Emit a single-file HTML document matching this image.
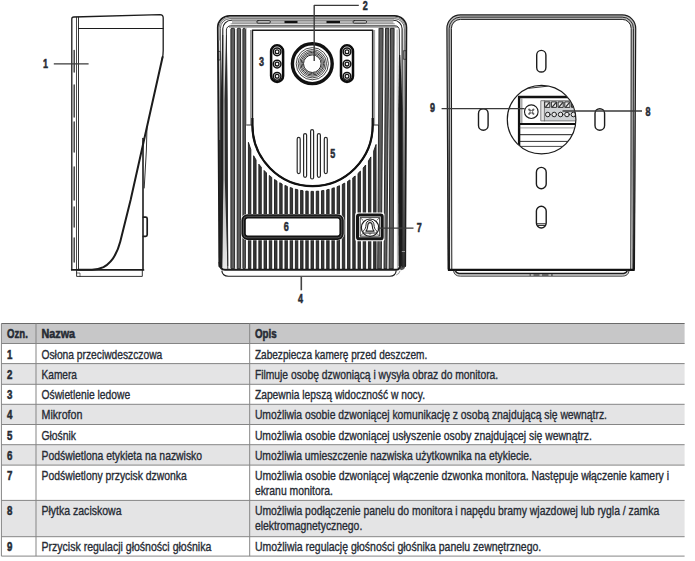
<!DOCTYPE html>
<html lang="pl"><head><meta charset="utf-8"><title>Panel zewnętrzny</title>
<style>html,body{margin:0;padding:0;background:#fff;}body{width:695px;height:561px;overflow:hidden;position:relative;}svg{position:absolute;left:0;top:0;display:block;}text{font-family:"Liberation Sans",sans-serif;fill:#262b34;stroke:#262b34;stroke-width:0.36px;}.b{font-weight:bold;stroke-width:0.55px;}</style></head><body>
<svg width="695" height="561" viewBox="0 0 695 561">
<g id="table">
<rect x="1.4" y="323.5" width="683.2" height="20.0" fill="#c7c7c8"/>
<rect x="1.4" y="363.6" width="683.2" height="20.7" fill="#e4e4e5"/>
<rect x="1.4" y="404.3" width="683.2" height="20.2" fill="#e4e4e5"/>
<rect x="1.4" y="444.7" width="683.2" height="20.4" fill="#e4e4e5"/>
<rect x="1.4" y="500.4" width="683.2" height="36.3" fill="#e4e4e5"/>
<line x1="1.4" y1="323.5" x2="684.6" y2="323.5" stroke="#6a6a6a" stroke-width="1"/>
<line x1="1.4" y1="343.5" x2="684.6" y2="343.5" stroke="#858585" stroke-width="1"/>
<line x1="1.4" y1="363.6" x2="684.6" y2="363.6" stroke="#858585" stroke-width="1"/>
<line x1="1.4" y1="384.3" x2="684.6" y2="384.3" stroke="#858585" stroke-width="1"/>
<line x1="1.4" y1="404.3" x2="684.6" y2="404.3" stroke="#858585" stroke-width="1"/>
<line x1="1.4" y1="424.5" x2="684.6" y2="424.5" stroke="#858585" stroke-width="1"/>
<line x1="1.4" y1="444.7" x2="684.6" y2="444.7" stroke="#858585" stroke-width="1"/>
<line x1="1.4" y1="465.1" x2="684.6" y2="465.1" stroke="#858585" stroke-width="1"/>
<line x1="1.4" y1="500.4" x2="684.6" y2="500.4" stroke="#858585" stroke-width="1"/>
<line x1="1.4" y1="536.7" x2="684.6" y2="536.7" stroke="#858585" stroke-width="1"/>
<line x1="1.4" y1="556.1" x2="684.6" y2="556.1" stroke="#858585" stroke-width="1"/>
<line x1="1.4" y1="323.5" x2="1.4" y2="556.1" stroke="#858585" stroke-width="1"/>
<line x1="36.0" y1="323.5" x2="36.0" y2="556.1" stroke="#858585" stroke-width="1"/>
<line x1="249.7" y1="323.5" x2="249.7" y2="556.1" stroke="#858585" stroke-width="1"/>
</g>
<g id="tabletext">
<text x="7.0" y="338.0" font-size="13.2" class="b" textLength="20.8" lengthAdjust="spacingAndGlyphs">Ozn.</text>
<text x="41.5" y="338.0" font-size="13.2" class="b" textLength="33.5" lengthAdjust="spacingAndGlyphs">Nazwa</text>
<text x="254.9" y="338.0" font-size="13.2" class="b" textLength="21.7" lengthAdjust="spacingAndGlyphs">Opis</text>
<text x="7.1" y="358.8" font-size="13.2" class="b" textLength="5.4" lengthAdjust="spacingAndGlyphs">1</text>
<text x="41.5" y="358.8" font-size="13.2" textLength="120.8" lengthAdjust="spacingAndGlyphs">Osłona przeciwdeszczowa</text>
<text x="254.9" y="358.8" font-size="13.2" textLength="172.4" lengthAdjust="spacingAndGlyphs">Zabezpiecza kamerę przed deszczem.</text>
<text x="7.1" y="379.0" font-size="13.2" class="b" textLength="5.4" lengthAdjust="spacingAndGlyphs">2</text>
<text x="41.5" y="379.0" font-size="13.2" textLength="35.5" lengthAdjust="spacingAndGlyphs">Kamera</text>
<text x="254.9" y="379.0" font-size="13.2" textLength="243.3" lengthAdjust="spacingAndGlyphs">Filmuje osobę dzwoniącą i wysyła obraz do monitora.</text>
<text x="7.1" y="399.2" font-size="13.2" class="b" textLength="5.4" lengthAdjust="spacingAndGlyphs">3</text>
<text x="41.5" y="399.2" font-size="13.2" textLength="88.7" lengthAdjust="spacingAndGlyphs">Oświetlenie ledowe</text>
<text x="254.9" y="399.2" font-size="13.2" textLength="170.1" lengthAdjust="spacingAndGlyphs">Zapewnia lepszą widoczność w nocy.</text>
<text x="7.1" y="419.4" font-size="13.2" class="b" textLength="5.4" lengthAdjust="spacingAndGlyphs">4</text>
<text x="41.5" y="419.4" font-size="13.2" textLength="40.9" lengthAdjust="spacingAndGlyphs">Mikrofon</text>
<text x="254.9" y="419.4" font-size="13.2" textLength="352.1" lengthAdjust="spacingAndGlyphs">Umożliwia osobie dzwoniącej komunikację z osobą znajdującą się wewnątrz.</text>
<text x="7.1" y="439.6" font-size="13.2" class="b" textLength="5.4" lengthAdjust="spacingAndGlyphs">5</text>
<text x="41.5" y="439.6" font-size="13.2" textLength="34.5" lengthAdjust="spacingAndGlyphs">Głośnik</text>
<text x="254.9" y="439.6" font-size="13.2" textLength="336.9" lengthAdjust="spacingAndGlyphs">Umożliwia osobie dzwoniącej usłyszenie osoby znajdującej się wewnątrz.</text>
<text x="7.1" y="459.8" font-size="13.2" class="b" textLength="5.4" lengthAdjust="spacingAndGlyphs">6</text>
<text x="41.5" y="459.8" font-size="13.2" textLength="160.6" lengthAdjust="spacingAndGlyphs">Podświetlona etykieta na nazwisko</text>
<text x="254.9" y="459.8" font-size="13.2" textLength="277.1" lengthAdjust="spacingAndGlyphs">Umożliwia umieszczenie nazwiska użytkownika na etykiecie.</text>
<text x="7.1" y="479.6" font-size="13.2" class="b" textLength="5.4" lengthAdjust="spacingAndGlyphs">7</text>
<text x="41.5" y="479.6" font-size="13.2" textLength="145.3" lengthAdjust="spacingAndGlyphs">Podświetlony przycisk dzwonka</text>
<text x="254.9" y="479.6" font-size="13.2" textLength="414.1" lengthAdjust="spacingAndGlyphs">Umożliwia osobie dzwoniącej włączenie dzwonka monitora. Następuje włączenie kamery i</text>
<text x="254.9" y="494.7" font-size="13.2" textLength="78.0" lengthAdjust="spacingAndGlyphs">ekranu monitora.</text>
<text x="7.1" y="515.3" font-size="13.2" class="b" textLength="5.4" lengthAdjust="spacingAndGlyphs">8</text>
<text x="41.5" y="515.3" font-size="13.2" textLength="80.0" lengthAdjust="spacingAndGlyphs">Płytka zaciskowa</text>
<text x="254.9" y="515.3" font-size="13.2" textLength="404.3" lengthAdjust="spacingAndGlyphs">Umożliwia podłączenie panelu do monitora i napędu bramy wjazdowej lub rygla / zamka</text>
<text x="254.9" y="529.8" font-size="13.2" textLength="107.4" lengthAdjust="spacingAndGlyphs">elektromagnetycznego.</text>
<text x="7.1" y="551.2" font-size="13.2" class="b" textLength="5.4" lengthAdjust="spacingAndGlyphs">9</text>
<text x="41.5" y="551.2" font-size="13.2" textLength="169.8" lengthAdjust="spacingAndGlyphs">Przycisk regulacji głośności głośnika</text>
<text x="254.9" y="551.2" font-size="13.2" textLength="286.3" lengthAdjust="spacingAndGlyphs">Umożliwia regulację głośności głośnika panelu zewnętrznego.</text>
</g>
<g id="side" fill="none" stroke="#1c1c1c" stroke-linecap="round" stroke-linejoin="round">
<path d="M71.8,269.6 V19 Q71.8,17.1 73.8,17 L160,14.6 Q163.2,14.6 163.2,17.8 V50.5 Q163.2,55 162.2,59" stroke-width="1.3"/>
<path d="M162.6,57 L148.5,120 L130.6,200 L120.3,241.5 C117.6,252 112,262.5 103.5,267.2 C99.5,269.2 96,269.8 92,269.8 H78" stroke-width="2"/>
<line x1="76.5" y1="17.2" x2="76.5" y2="269.5" stroke-width="0.8"/>
<line x1="78.5" y1="17.2" x2="78.5" y2="269.5" stroke-width="0.9"/>
<line x1="78.5" y1="28.5" x2="163.2" y2="28.5" stroke-width="1.1"/>
<line x1="74.2" y1="50.5" x2="74.2" y2="72.0" stroke-width="1.5" stroke="#444"/>
<line x1="74.2" y1="85.0" x2="74.2" y2="117.0" stroke-width="1.5" stroke="#444"/>
<line x1="74.2" y1="122.0" x2="74.2" y2="152.0" stroke-width="1.5" stroke="#444"/>
<line x1="74.2" y1="167.0" x2="74.2" y2="200.0" stroke-width="1.5" stroke="#444"/>
<line x1="74.2" y1="207.0" x2="74.2" y2="227.0" stroke-width="1.5" stroke="#444"/>
<line x1="74.2" y1="238.0" x2="74.2" y2="262.0" stroke-width="1.5" stroke="#444"/>
<line x1="71.8" y1="269.9" x2="143.4" y2="269.9" stroke-width="1.9"/>
<path d="M76.6,270 V276.4 H142.3 V270" stroke-width="0.9"/>
<path d="M76.6,273 H80 V276.4" stroke-width="0.6"/>
<path d="M143,269.6 V138.5" stroke-width="1.6"/>
<path d="M147,126.5 L146.4,150 L144.2,188" stroke-width="0.9"/>
<path d="M143.4,217.2 H145.6 Q147.2,217.2 147.2,218.8 V234.8 Q147.2,236.4 145.6,236.4 H143.4" stroke-width="1.7"/>
<line x1="53.8" y1="63.9" x2="88.6" y2="63.9" stroke-width="1.4" stroke="#3a3a3a" stroke-linecap="butt"/>
</g>
<g id="front" fill="none" stroke="#1c1c1c" stroke-linecap="round" stroke-linejoin="round">
<defs><linearGradient id="wg" x1="0" y1="0" x2="0" y2="1"><stop offset="0" stop-color="#4a4a4a" stop-opacity="0"/><stop offset="0.35" stop-color="#4a4a4a" stop-opacity="0.25"/><stop offset="1" stop-color="#585858" stop-opacity="1"/></linearGradient></defs>
<path d="M399.3,30 L406.4,30 L405.2,266 Q405,270 401,270.2 L398.8,268 Z" fill="url(#wg)" stroke="none"/>
<path d="M217.8,30 L222.8,30 L222,268 L219.4,268 Z" fill="url(#wg)" stroke="none"/>
<path d="M218.6,140 L220.4,140 L222,267 L218.8,267 Z" fill="#222" stroke="none"/>
<defs><linearGradient id="lg" x1="0" y1="0" x2="0" y2="1"><stop offset="0" stop-color="#666" stop-opacity="0"/><stop offset="0.3" stop-color="#666" stop-opacity="0.4"/><stop offset="0.7" stop-color="#666" stop-opacity="0.4"/><stop offset="1" stop-color="#666" stop-opacity="0.15"/></linearGradient></defs>
<path d="M218,30 L226.4,30 L227.7,268 L219.4,268 Z" fill="url(#lg)" stroke="none"/>
<path d="M219.4,266 L217.8,27.5 A11.8,11.8 0 0 1 229.6,15.8 H394.6 A11.8,11.8 0 0 1 406.4,27.5 L405.2,266" stroke-width="1.8"/>
<path d="M220.7,267 L220.4,28.5 A9.6,9.6 0 0 1 230,18.7 H394.7 A9.6,9.6 0 0 1 404.3,28.5 L403.6,267" stroke-width="0.7"/>
<path d="M221.8,267 L222.8,29 A8.5,8.5 0 0 1 231.3,20.3 H393.6 A8.5,8.5 0 0 1 402.1,29 L402.2,267" stroke-width="1.1"/>
<path d="M227.8,268.5 L226.4,30 A4.2,4.2 0 0 1 230.6,25.8 H395.1 A4.2,4.2 0 0 1 399.3,30 L400.2,266" stroke-width="0.9"/>
<path d="M399,55 L400.3,55 L402.6,110 L402.3,200 L401.8,266 L398.6,266 L398.2,200 L398.2,110 Z" fill="#1a1a1a" stroke="none"/>
<path d="M222.4,35 L223.2,35 L223.4,100 L223.4,180 L222,266 L219.6,266 L220.7,180 L220.7,100 Z" fill="#222" stroke="none"/>
<path d="M226,35 L226.8,35 L227.6,100 L227.7,180 L228.2,266 L227.4,266 L224.8,180 L224.5,100 Z" fill="#2c2c2c" stroke="none"/>
<path d="M219.2,40 L219.1,28 A10.7,10.7 0 0 1 229.8,17.2 H394.6 A10.7,10.7 0 0 1 405.3,28 L405.2,40" stroke-width="1.1" stroke="#8a8a8a"/>
<rect x="403.8" y="50.7" width="2.4" height="8.6" stroke-width="0.7"/>
<rect x="218" y="51.4" width="2.2" height="8.6" stroke-width="0.7"/>
<path d="M397.1,30 L397.4,268" stroke-width="0.6" stroke="#777"/>
<rect x="232" y="20.4" width="161.4" height="3.2" fill="#b4b4b4" stroke="none"/>
<line x1="231" y1="23.8" x2="394.4" y2="23.8" stroke-width="0.6" stroke="#555"/>
<rect x="256.8" y="20.7" width="13.6" height="2.4" rx="1.2" fill="#ddd" stroke-width="0.9"/>
<rect x="353" y="20.7" width="13.6" height="2.4" rx="1.2" fill="#ddd" stroke-width="0.9"/>
<line x1="284.5" y1="22" x2="297.5" y2="22" stroke-width="2.2" stroke="#111" stroke-linecap="butt"/>
<line x1="326.5" y1="22" x2="340" y2="22" stroke-width="2.2" stroke="#111" stroke-linecap="butt"/>
</g>
<g id="ribs" fill="#383838" stroke="#1c1c1c" stroke-width="0.9" stroke-linejoin="round">
<rect x="230.90" y="28.3" width="3.70" height="240.6" rx="1" fill="#5e5e5e"/>
<rect x="237.20" y="28.3" width="3.40" height="240.6" rx="1" fill="#5e5e5e"/>
<rect x="242.90" y="28.3" width="2.50" height="240.6" rx="1" fill="#5e5e5e"/>
<path d="M377.70,268.9 L379.10,28.3 H383.10 L381.30,268.9 Z" fill="#5e5e5e"/>
<path d="M384.00,268.9 L385.50,28.3 H388.90 L386.80,268.9 Z" fill="#5e5e5e"/>
<path d="M389.10,268.9 L390.50,28.3 H394.10 L393.20,268.9 Z" fill="#5e5e5e"/>
<path d="M248.42,268.9 V142.32 L250.84,149.64 V268.9 Z"/>
<path d="M253.64,268.9 V155.76 L256.05,160.01 V268.9 Z"/>
<path d="M258.85,268.9 V164.17 L261.27,167.28 V268.9 Z"/>
<path d="M264.07,268.9 V170.46 L266.49,172.91 V268.9 Z"/>
<path d="M269.29,268.9 V175.44 L271.71,177.41 V268.9 Z"/>
<path d="M274.51,268.9 V179.47 L276.93,181.08 V268.9 Z"/>
<path d="M279.73,268.9 V182.76 L282.14,184.06 V268.9 Z"/>
<path d="M284.94,268.9 V185.42 L287.36,186.46 V268.9 Z"/>
<path d="M290.16,268.9 V187.53 L292.58,188.34 V268.9 Z"/>
<path d="M295.38,268.9 V189.15 L297.80,189.75 V268.9 Z"/>
<path d="M300.60,268.9 V190.32 L303.02,190.72 V268.9 Z"/>
<path d="M305.82,268.9 V191.06 L308.23,191.26 V268.9 Z"/>
<path d="M311.03,268.9 V191.38 L313.45,191.39 V268.9 Z"/>
<path d="M316.25,268.9 V191.30 L318.67,191.12 V268.9 Z"/>
<path d="M321.47,268.9 V190.80 L323.89,190.43 V268.9 Z"/>
<path d="M326.69,268.9 V189.88 L329.11,189.31 V268.9 Z"/>
<path d="M331.91,268.9 V188.53 L334.32,187.74 V268.9 Z"/>
<path d="M337.12,268.9 V186.71 L339.54,185.69 V268.9 Z"/>
<path d="M342.34,268.9 V184.37 L344.76,183.10 V268.9 Z"/>
<path d="M347.56,268.9 V181.46 L349.98,179.90 V268.9 Z"/>
<path d="M352.78,268.9 V177.89 L355.20,175.96 V268.9 Z"/>
<path d="M358.00,268.9 V173.49 L360.41,171.11 V268.9 Z"/>
<path d="M363.21,268.9 V168.02 L365.63,165.00 V268.9 Z"/>
<path d="M368.43,268.9 V160.98 L370.85,156.91 V268.9 Z"/>
<path d="M373.65,268.9 V151.13 L376.07,144.48 V268.9 Z"/>
</g>
<g fill="none" stroke="#1c1c1c" stroke-linejoin="round">
<line x1="229" y1="27" x2="398" y2="27" stroke-width="0.8" stroke="#444"/>
<path d="M219.5,262 Q219.7,269.8 225,269.8 H396.5 Q400.2,269.8 400.2,264" stroke-width="2"/>
<path d="M221.8,270.6 Q222.4,276.2 228.4,276.2 H390 Q395.6,276.2 396.2,270.6" stroke-width="1.1"/>
<path d="M400,270.8 Q399.4,274 396.2,275" stroke-width="0.6" stroke="#555"/>
<line x1="401.8" y1="251.5" x2="405" y2="251.5" stroke-width="0.7" stroke="#bbb"/>
<line x1="246.2" y1="125" x2="252.4" y2="125" stroke-width="0.9"/>
<line x1="372.7" y1="125" x2="378.9" y2="125" stroke-width="0.9"/>
<line x1="246.3" y1="28" x2="246.3" y2="125" stroke-width="0.5" stroke="#777"/>
<line x1="378.8" y1="28" x2="378.8" y2="125" stroke-width="0.5" stroke="#777"/>
<line x1="250.5" y1="30" x2="250.5" y2="125" stroke-width="0.6" stroke="#555"/>
<line x1="374.6" y1="30" x2="374.6" y2="125" stroke-width="0.6" stroke="#555"/>
<path d="M252.4,30.3 H372.7 V125 A60.15,61.10 0 0 1 252.4,125 Z" fill="#fff" stroke-width="1.6"/>
<path d="M372.7,118 V125 A60.15,61.10 0 0 1 252.4,125 V118" stroke-width="2.2" stroke="#111"/>
<circle cx="312.3" cy="63.7" r="19.9" fill="#fff" stroke-width="3.4" stroke="#111"/>
<circle cx="312.3" cy="63.7" r="16.1" stroke-width="0.8"/>
<circle cx="312.3" cy="63.7" r="14.2" stroke-width="0.8"/>
<circle cx="312.3" cy="63.7" r="12.6" stroke-width="0.9" stroke="#333"/>
<circle cx="312.3" cy="63.7" r="11.3" stroke-width="1" stroke="#333"/>
<circle cx="312.3" cy="63.7" r="10" stroke-width="0.9" stroke="#333"/>
<circle cx="312.3" cy="63.7" r="8.8" stroke-width="1" stroke="#222"/>
<rect x="271.1" y="45.3" width="12" height="36.6" rx="6" fill="#fff" stroke-width="2.5" stroke="#0c0c0c"/>
<circle cx="277.1" cy="51.8" r="3.85" stroke-width="1.5" stroke="#111"/>
<circle cx="277.1" cy="51.8" r="1.9" stroke-width="1.3" stroke="#111"/>
<circle cx="277.1" cy="64.1" r="3.85" stroke-width="1.5" stroke="#111"/>
<circle cx="277.1" cy="64.1" r="1.9" stroke-width="1.3" stroke="#111"/>
<circle cx="277.1" cy="76.3" r="3.85" stroke-width="1.5" stroke="#111"/>
<circle cx="277.1" cy="76.3" r="1.9" stroke-width="1.3" stroke="#111"/>
<rect x="341.0" y="45.3" width="12" height="36.6" rx="6" fill="#fff" stroke-width="2.5" stroke="#0c0c0c"/>
<circle cx="347.0" cy="51.8" r="3.85" stroke-width="1.5" stroke="#111"/>
<circle cx="347.0" cy="51.8" r="1.9" stroke-width="1.3" stroke="#111"/>
<circle cx="347.0" cy="64.1" r="3.85" stroke-width="1.5" stroke="#111"/>
<circle cx="347.0" cy="64.1" r="1.9" stroke-width="1.3" stroke="#111"/>
<circle cx="347.0" cy="76.3" r="3.85" stroke-width="1.5" stroke="#111"/>
<circle cx="347.0" cy="76.3" r="1.9" stroke-width="1.3" stroke="#111"/>
<rect x="297.20" y="137.4" width="3" height="36.2" rx="1.5" stroke-width="1.2" stroke="#2a2a2a"/>
<rect x="303.60" y="133.6" width="3" height="43.7" rx="1.5" stroke-width="1.2" stroke="#2a2a2a"/>
<rect x="310.60" y="129.7" width="3" height="49.3" rx="1.5" stroke-width="1.2" stroke="#2a2a2a"/>
<rect x="317.40" y="133.6" width="3" height="43.7" rx="1.5" stroke-width="1.2" stroke="#2a2a2a"/>
<rect x="324.30" y="137.4" width="3" height="36.2" rx="1.5" stroke-width="1.2" stroke="#2a2a2a"/>
<rect x="240.9" y="213.9" width="103.4" height="26.3" rx="6.3" fill="#fff" stroke="none"/>
<rect x="243.6" y="216.35" width="98" height="21.4" rx="4" fill="#fff" stroke-width="4.4" stroke="#141414"/>
<rect x="243.5" y="216.3" width="98.2" height="21.5" rx="4" stroke-width="0.5" stroke="#8a8a8a"/>
<rect x="355.2" y="212.6" width="29.3" height="28.6" rx="2" fill="#fff" stroke="none"/>
<rect x="357.5" y="214.9" width="24.7" height="23.9" rx="1.6" fill="#fff" stroke-width="3" stroke="#151515"/>
<rect x="360.2" y="217.6" width="19.4" height="18.6" stroke-width="0.8"/>
<circle cx="370.05" cy="227.7" r="8.7" stroke-width="1.2" fill="#fff"/>
<path d="M360.2,217.6 l2.8,2.8 M379.6,217.6 l-2.8,2.8 M360.2,236.2 l2.8,-2.8 M379.6,236.2 l-2.8,-2.8" stroke-width="0.7"/>
<path d="M370,220.6 c-2.7,0 -3.9,2 -4,4.3 c-0.1,2.7 -0.7,4.2 -2.4,5.7 c-1,0.9 -0.5,2.4 0.8,2.4 h11.2 c1.3,0 1.8,-1.5 0.8,-2.4 c-1.7,-1.5 -2.3,-3 -2.4,-5.7 c-0.1,-2.3 -1.3,-4.3 -4,-4.3 z" stroke-width="1" stroke="#222" fill="#fff"/>
<path d="M370,222.6 c-1.5,0 -2.1,1.2 -2.2,2.8 c-0.1,2.6 -0.6,4.3 -1.9,5.7 h8.2 c-1.3,-1.4 -1.8,-3.1 -1.9,-5.7 c-0.1,-1.6 -0.7,-2.8 -2.2,-2.8 z" stroke-width="1.1" stroke="#222" fill="#fff"/>
<path d="M368.7,233.6 q1.3,1 2.6,0" stroke-width="0.7"/>
<path d="M314.2,61 V5.4 H358.8" stroke-width="1.4" stroke="#3a3a3a" stroke-linecap="butt"/>
<line x1="377.7" y1="228.1" x2="413.5" y2="228.1" stroke-width="1.4" stroke="#3a3a3a" stroke-linecap="butt"/>
<line x1="301.3" y1="276.8" x2="301.3" y2="290.3" stroke-width="1.6" stroke="#444" stroke-linecap="butt"/>
</g>
<text x="362.7" y="9.8" font-size="12.8" class="b" textLength="5.0" lengthAdjust="spacingAndGlyphs">2</text>
<text x="259.1" y="66.2" font-size="12.8" class="b" textLength="5.0" lengthAdjust="spacingAndGlyphs">3</text>
<text x="330.2" y="158.0" font-size="12.8" class="b" textLength="5.0" lengthAdjust="spacingAndGlyphs">5</text>
<text x="283.8" y="230.6" font-size="12.8" class="b" textLength="5.0" lengthAdjust="spacingAndGlyphs">6</text>
<text x="416.8" y="232.3" font-size="12.8" class="b" textLength="5.0" lengthAdjust="spacingAndGlyphs">7</text>
<text x="298.1" y="302.8" font-size="12.8" class="b" textLength="5.0" lengthAdjust="spacingAndGlyphs">4</text>
<text x="430.1" y="112.2" font-size="12.8" class="b" textLength="5.0" lengthAdjust="spacingAndGlyphs">9</text>
<text x="645.6" y="116.2" font-size="12.8" class="b" textLength="5.0" lengthAdjust="spacingAndGlyphs">8</text>
<text x="43.1" y="68.0" font-size="12.8" class="b" textLength="5.0" lengthAdjust="spacingAndGlyphs">1</text>
<g id="back" fill="none" stroke="#1c1c1c" stroke-linecap="round" stroke-linejoin="round">
<defs><linearGradient id="bg" gradientUnits="userSpaceOnUse" x1="0" y1="0" x2="0" y2="270"><stop offset="0" stop-color="#bcbcbc"/><stop offset="0.6" stop-color="#bcbcbc"/><stop offset="0.92" stop-color="#f4f4f4"/><stop offset="1" stop-color="#fafafa"/></linearGradient></defs>
<path d="M449.6,269 L449.15,28.4 A11.25,11.25 0 0 1 460.4,17.15 H622.2 A11.25,11.25 0 0 1 633.45,28.4 L633,269" stroke-width="4.2" stroke="url(#bg)" stroke-linecap="butt"/>
<path d="M448.2,269 L446.9,28.4 A13.5,13.5 0 0 1 460.4,14.9 H622.2 A13.5,13.5 0 0 1 635.7,28.4 L634.4,269" stroke-width="1.2"/>
<path d="M449.6,269 L449.15,28.4 A11.25,11.25 0 0 1 460.4,17.15 H622.2 A11.25,11.25 0 0 1 633.45,28.4 L633,269" stroke-width="0.9"/>
<path d="M451.8,269 L451.4,28.4 A9,9 0 0 1 460.4,19.4 H622.2 A9,9 0 0 1 631.2,28.4 L630.8,269" stroke-width="1"/>
<defs><linearGradient id="eg" gradientUnits="userSpaceOnUse" x1="0" y1="100" x2="0" y2="270"><stop offset="0" stop-color="#222" stop-opacity="0"/><stop offset="0.7" stop-color="#222" stop-opacity="0.75"/><stop offset="1" stop-color="#151515" stop-opacity="1"/></linearGradient></defs>
<path d="M446.9,100 L449.15,100 L449.9,269.5 L447.9,269.5 Z" fill="url(#eg)" stroke="none"/>
<path d="M635.7,100 L633.45,100 L632.7,269.5 L634.7,269.5 Z" fill="url(#eg)" stroke="none"/>
<line x1="447.9" y1="269.9" x2="634.7" y2="269.9" stroke-width="2.2" stroke-linecap="butt" stroke="#111"/>
<path d="M454.3,271 Q455,274.6 460.5,274.6 H622.1 Q627.6,274.6 628.3,271" stroke-width="2.8" stroke="#d8d8d8" stroke-linecap="butt"/>
<path d="M455.6,271 Q456.4,273.6 461,273.6 H621.6 Q626.2,273.6 627,271" stroke-width="1.5"/>
<path d="M453.6,271 Q454.2,276.2 460.4,276.2 H622.2 Q628.4,276.2 629,271" stroke-width="0.8"/>
<path d="M529.5,275 H531 M533.5,275 H539.5 M542,275 H548.5 M551,275 H552.8" stroke-width="1.2" stroke-linecap="butt"/>
<rect x="536.7" y="50.4" width="9.2" height="21.6" rx="4.6" stroke-width="1.4"/>
<rect x="478.5" y="108.7" width="9.6" height="21.5" rx="4.8" stroke-width="1.4"/>
<rect x="595" y="108.7" width="9.6" height="21.5" rx="4.8" stroke-width="1.4"/>
<rect x="536.4" y="167.4" width="9.8" height="21.4" rx="4.9" stroke-width="1.4"/>
<rect x="536.4" y="206.2" width="9.8" height="21.8" rx="4.9" stroke-width="1.4"/>
<line x1="537.2" y1="223.8" x2="545.4" y2="223.8" stroke-width="1"/>
<line x1="538" y1="225.5" x2="544.6" y2="225.5" stroke-width="0.9"/>
<clipPath id="mc"><circle cx="541.6" cy="119.6" r="34"/></clipPath>
<g clip-path="url(#mc)">
<rect x="540.8" y="100.7" width="40" height="20.2" fill="#cfd2d4" stroke="none"/>
<rect x="540.8" y="100.7" width="3.6" height="20.2" fill="#e4e4e4" stroke="none"/>
<path d="M580,100.7 H540.8 V120.9 H580 M544.4,100.7 V120.9" stroke-width="0.7" stroke="#555"/>
<rect x="545.1" y="101.9" width="4.7" height="5.5" fill="#eee" stroke-width="0.9" stroke="#222"/>
<path d="M545.9,106.6 l3.2,-3.8" stroke-width="1.3" stroke="#333"/>
<circle cx="547.8" cy="114.5" r="2.3" fill="#e6e6e6" stroke-width="1" stroke="#222"/>
<rect x="551.8" y="101.9" width="4.7" height="5.5" fill="#eee" stroke-width="0.9" stroke="#222"/>
<path d="M552.6,106.6 l3.2,-3.8" stroke-width="1.3" stroke="#333"/>
<circle cx="554.2" cy="114.5" r="2.3" fill="#e6e6e6" stroke-width="1" stroke="#222"/>
<rect x="558.5" y="101.9" width="4.7" height="5.5" fill="#eee" stroke-width="0.9" stroke="#222"/>
<path d="M559.3,106.6 l3.2,-3.8" stroke-width="1.3" stroke="#333"/>
<circle cx="560.6" cy="114.5" r="2.3" fill="#e6e6e6" stroke-width="1" stroke="#222"/>
<rect x="565.2" y="101.9" width="4.7" height="5.5" fill="#eee" stroke-width="0.9" stroke="#222"/>
<path d="M566.0,106.6 l3.2,-3.8" stroke-width="1.3" stroke="#333"/>
<circle cx="567.0" cy="114.5" r="2.3" fill="#e6e6e6" stroke-width="1" stroke="#222"/>
<rect x="571.9" y="101.9" width="4.7" height="5.5" fill="#eee" stroke-width="0.9" stroke="#222"/>
<path d="M572.7,106.6 l3.2,-3.8" stroke-width="1.3" stroke="#333"/>
<circle cx="573.4" cy="114.5" r="2.3" fill="#e6e6e6" stroke-width="1" stroke="#222"/>
<line x1="508" y1="90.6" x2="560" y2="84.8" stroke-width="0.9"/>
<path d="M580,97 H519.1 V160" stroke-width="2.4" stroke-linejoin="miter" stroke="#111"/>
<line x1="521.8" y1="98.5" x2="521.8" y2="123" stroke-width="1.2" stroke="#999"/>
<line x1="520" y1="124.1" x2="580" y2="124.1" stroke-width="2" stroke="#111"/>
<line x1="520" y1="127.9" x2="580" y2="127.9" stroke-width="0.6" stroke="#555"/>
<line x1="520" y1="134.7" x2="580" y2="134.7" stroke-width="1"/>
<line x1="520" y1="141.4" x2="580" y2="141.4" stroke-width="0.9"/>
<line x1="520" y1="146.4" x2="580" y2="146.4" stroke-width="0.8"/>
<circle cx="531.3" cy="111.7" r="6.8" fill="#fff" stroke-width="1.1"/>
<path d="M529.1,109.5 l4.4,4.4 M533.5,109.5 l-4.4,4.4" stroke-width="1.9" stroke="#666" stroke-linecap="round"/>
<circle cx="531.3" cy="111.7" r="0.9" fill="#fff" stroke="none"/>
</g>
<circle cx="541.6" cy="119.6" r="34.3" stroke-width="1.2"/>
<line x1="441.6" y1="108.6" x2="524.6" y2="108.6" stroke-width="1.4" stroke="#3a3a3a" stroke-linecap="butt"/>
<line x1="562.5" y1="111" x2="642" y2="111" stroke-width="1.4" stroke="#3a3a3a" stroke-linecap="butt"/>
</g>
</svg></body></html>
